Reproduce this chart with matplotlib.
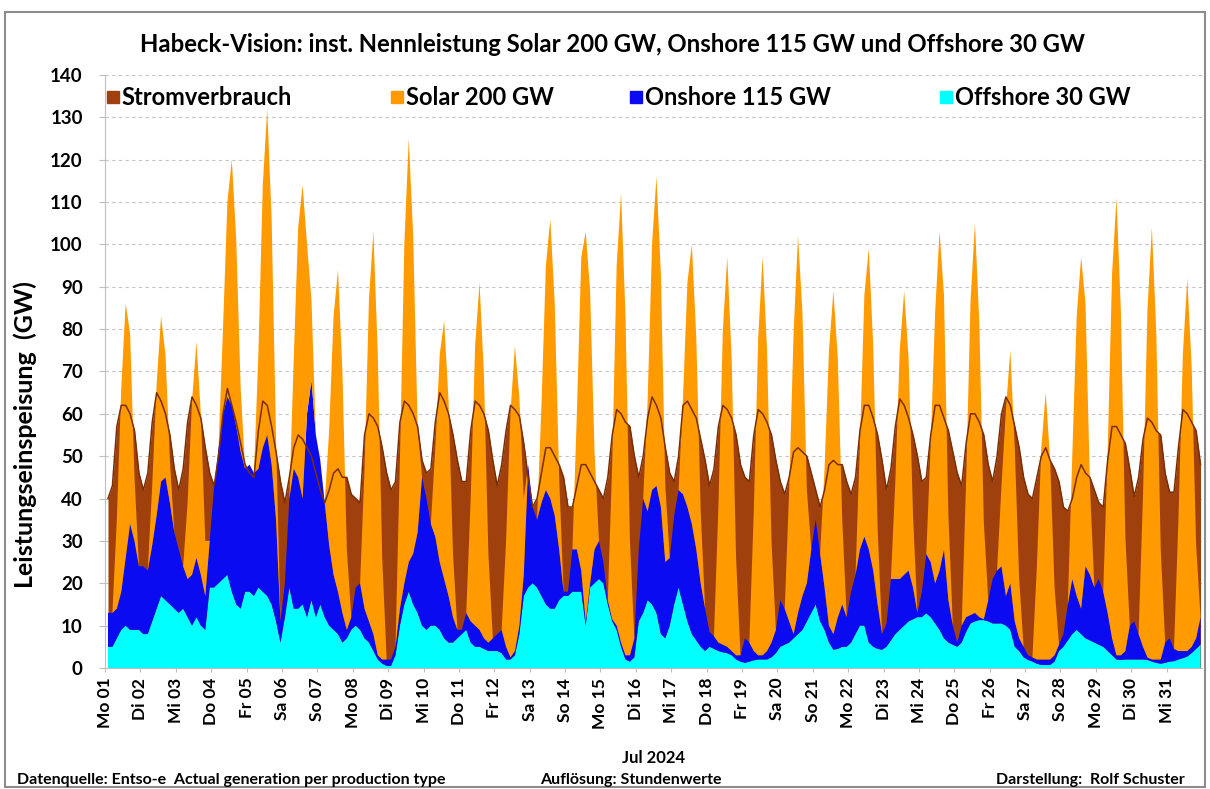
import numpy as np
import matplotlib.pyplot as plt
from matplotlib.patches import Rectangle

plt.rcParams["font.family"] = ["Lato", "DejaVu Sans"]
plt.rcParams["font.weight"] = "bold"

day_labels = ["Mo 01", "Di 02", "Mi 03", "Do 04", "Fr 05", "Sa 06", "So 07",
              "Mo 08", "Di 09", "Mi 10", "Do 11", "Fr 12", "Sa 13", "So 14",
              "Mo 15", "Di 16", "Mi 17", "Do 18", "Fr 19", "Sa 20", "So 21",
              "Mo 22", "Di 23", "Mi 24", "Do 25", "Fr 26", "Sa 27", "So 28",
              "Mo 29", "Di 30", "Mi 31"]

# hour of day of each sample (values every 3 h)
sample_hours = [2, 5, 8, 11, 14, 17, 20, 23]

# GW, one row per day
offshore = [
    [5, 5, 7, 9, 10, 9, 9, 9],
    [8, 8, 11, 14, 17, 16, 15, 14],
    [13, 14, 12, 10, 12, 10, 9, 19],
    [19, 20, 21, 22, 18, 15, 14, 18],
    [18, 17, 19, 18, 17, 15, 11, 6],
    [12, 19, 14, 14, 15, 12, 16, 12],
    [15, 12, 10, 9, 8, 6, 7, 9],
    [10, 9, 7, 6, 4, 2, 1, 0.5],
    [0.5, 3, 10, 15, 18, 15, 13, 10],
    [9, 10, 10, 9, 7, 6, 6, 7],
    [8, 9, 6, 5, 5, 4.5, 4, 4],
    [4, 3.5, 2, 2, 3, 8, 17, 19],
    [20, 19, 17, 15, 14, 14, 16, 17],
    [17, 18, 18, 18, 10, 19, 20, 21],
    [20, 15, 11, 9, 5, 2, 1.5, 2.5],
    [11, 13, 16, 15, 13, 8, 7, 10],
    [15, 19, 15, 11, 8, 6.5, 5, 4],
    [5, 4.5, 4, 3.7, 3.5, 3, 2, 1.5],
    [1.2, 1.5, 1.8, 2, 2, 2, 2.5, 3.5],
    [5, 5.5, 6, 7, 8, 9, 11, 13],
    [15, 11, 9, 6, 4.3, 4.5, 5, 5],
    [6, 8, 10, 10, 6, 5, 4.5, 4.3],
    [5, 6.5, 8, 9, 10, 11, 11.5, 12],
    [12, 12.9, 12, 10.5, 9, 7, 6, 5.5],
    [5, 6, 8.5, 10.5, 11, 11.3, 11.3, 11],
    [10.5, 10.5, 10.5, 10, 9, 5, 4, 2.5],
    [1.9, 1.5, 1, 0.7, 0.7, 0.7, 1.5, 4],
    [5, 6.5, 8, 9, 8, 7, 6.5, 6],
    [5.5, 5, 4, 3, 2, 1.9, 2, 2],
    [2, 2, 2, 1.9, 1.5, 1.2, 1, 1.2],
    [1.5, 1.6, 2, 2.3, 2.7, 3.5, 4.5, 5.5],
]

onshore = [
    [8, 8, 7, 9, 16, 25, 21, 15],
    [16, 15, 18, 22, 27, 29, 24, 18],
    [15, 10, 9, 12, 14, 12, 8, 11],
    [24, 32, 39, 42, 44, 42, 37, 29],
    [30, 29, 28, 34, 38, 33, 24, 5],
    [8, 21, 33, 31, 25, 48, 52, 43],
    [34, 27, 19, 13, 10, 7, 2, 3],
    [9, 11, 7, 5, 4, 1, 1, 1.5],
    [1.5, 2, 4, 5, 7, 12, 19, 35],
    [31, 24, 21, 16, 14, 11, 6, 2],
    [1, 4, 5, 5, 4, 2.5, 2, 3],
    [4, 5.5, 3, 0.5, 1, 2, 5, 29],
    [18, 16, 22, 27, 26, 22, 12, 1],
    [1, 10, 10, 5, 1, 1, 8, 9],
    [5, 1, 0.5, 1, 1, 1, 1.5, 4.5],
    [17, 27, 21, 27, 30, 30, 18, 16],
    [21, 23, 26, 27, 26, 21.5, 15, 10],
    [3.5, 3, 2, 1.8, 1.5, 1, 1, 1.5],
    [5.8, 4.5, 2.2, 1, 1, 2, 3.5, 5.5],
    [11, 8.5, 5, 1, 5, 8, 9, 15],
    [20, 16, 10, 4, 3.7, 7.5, 10, 7],
    [12, 14, 18, 21, 22, 18, 10.5, 3.7],
    [5.5, 14.5, 13, 12, 12, 12, 7.5, 1],
    [6, 14, 13, 9.5, 14, 21, 10, 4.5],
    [1, 4, 3.5, 2, 2, 0.7, 0.2, 5],
    [10.5, 12.5, 13.5, 7, 11, 6, 3, 2.5],
    [1.1, 1, 1, 1.3, 1.3, 1.3, 1.5, 1.5],
    [3, 8.5, 13, 8, 6, 17, 15.5, 13],
    [15.5, 13, 9, 4, 1, 1.1, 2, 8],
    [9, 6, 3, 0.6, 0.5, 0.8, 1, 4.8],
    [5.5, 2.9, 2, 1.7, 1.3, 1.5, 2.5, 6.5],
]

solar = [
    [0, 0, 21, 48, 60, 45, 15, 0],
    [0, 0, 14, 31, 39, 29, 10, 0],
    [0, 0, 18, 41, 51, 38, 13, 0],
    [0, 0, 20, 46, 58, 44, 15, 0],
    [0, 0, 27, 62, 77, 58, 19, 0],
    [0, 0, 26, 59, 74, 40, 19, 0],
    [0, 0, 27, 61, 76, 57, 19, 0],
    [0, 0, 33, 76, 95, 71, 24, 0],
    [0, 0, 35, 80, 100, 75, 25, 0],
    [0, 0, 21, 49, 61, 46, 15, 0],
    [0, 0, 29, 66, 82, 62, 21, 0],
    [0, 0, 25, 58, 72, 54, 18, 0],
    [0, 0, 23, 53, 66, 50, 17, 0],
    [0, 0, 32, 74, 92, 69, 23, 0],
    [0, 0, 37, 85, 106, 80, 27, 0],
    [0, 0, 26, 58, 73, 55, 18, 0],
    [0, 0, 23, 53, 66, 50, 17, 0],
    [0, 0, 32, 74, 92, 69, 23, 0],
    [0, 0, 33, 75, 94, 71, 24, 0],
    [0, 0, 31, 71, 89, 67, 22, 0],
    [0, 0, 28, 65, 81, 61, 20, 0],
    [0, 0, 25, 57, 71, 53, 18, 0],
    [0, 0, 23, 54, 67, 50, 17, 0],
    [0, 0, 28, 64, 80, 60, 20, 0],
    [0, 0, 32, 74, 92, 69, 23, 0],
    [0, 0, 19, 44, 55, 41, 14, 0],
    [0, 0, 22, 50, 63, 47, 16, 0],
    [0, 0, 29, 66, 83, 62, 21, 0],
    [0, 0, 38, 86, 108, 81, 27, 0],
    [0, 0, 36, 82, 102, 77, 26, 0],
    [0, 0, 31, 70, 88, 66, 22, 0],
]

verbrauch = [
    [40, 43, 57, 62, 62, 60, 56, 46],
    [42, 46, 58, 65, 63, 60, 55, 47],
    [42, 47, 58, 64, 62, 59, 52, 46],
    [43, 50, 60, 66, 62, 58, 53, 48],
    [46, 45, 56, 63, 62, 57, 51, 44],
    [39, 45, 52, 55, 54, 52, 50, 46],
    [42, 39, 42, 46, 47, 45, 45, 41],
    [40, 39, 55, 60, 59, 57, 52, 46],
    [42, 44, 58, 63, 62, 60, 57, 49],
    [46, 47, 58, 65, 63, 60, 55, 49],
    [44, 44, 56, 63, 62, 60, 56, 49],
    [43, 48, 56, 62, 61, 59.5, 53, 45],
    [38, 40, 46, 52, 52, 50, 48, 45],
    [38, 38, 43, 48, 48, 46, 44, 42],
    [40, 45, 55, 61, 60, 58, 57, 50],
    [45, 50, 59, 64, 62, 59, 52, 46],
    [44, 50, 62, 63, 61, 59, 54, 49],
    [43, 47, 57, 62, 61, 59, 55, 48],
    [45, 44, 55, 61, 60, 58, 55, 49],
    [44, 41, 45, 51, 52, 51, 50, 46],
    [42, 38, 42, 48, 49, 48, 48, 44],
    [41, 45, 56, 62, 62, 59, 55, 49],
    [42, 47, 57, 63.5, 62, 59, 55, 50],
    [44, 45, 55, 62, 62, 59, 56, 51],
    [46, 43, 53, 60, 60, 58, 55, 48],
    [44, 50, 60, 64, 62, 57, 52, 45],
    [41, 40, 45, 50, 52, 49, 47, 44],
    [38, 37, 40, 45, 48, 46, 45, 42],
    [39, 38, 49, 57, 57, 55, 53, 47],
    [40.5, 45, 54, 59, 58, 56, 55, 46],
    [41.5, 41.5, 52, 61, 60, 58, 56, 48],
]

c_brown = "#A0410D"
c_line = "#7A2E05"
c_orange = "#FF9A00"
c_blue = "#0B0BF2"
c_cyan = "#00FFFF"

hours = (np.arange(len(day_labels))[:, None] * 24 + np.array(sample_hours)).ravel()
off = np.array(offshore, dtype=float).ravel()
on = np.array(onshore, dtype=float).ravel()
sol = np.array(solar, dtype=float).ravel()
last = np.array(verbrauch, dtype=float).ravel()

fig = plt.figure(figsize=(12.1, 7.89), dpi=100)
ax = fig.add_axes([0.0868, 0.1534, 0.9066, 0.7516])

ax.fill_between(hours, 0, last, color=c_brown, lw=0)
ax.stackplot(hours, off, on, sol, colors=[c_cyan, c_blue, c_orange], lw=0)
ax.plot(hours, last, color=c_line, lw=1.1)

ax.set_xlim(0, 24 * len(day_labels))
ax.set_ylim(0, 140)
ax.set_yticks(range(0, 141, 10))
ax.set_xticks(np.arange(len(day_labels)) * 24)
ax.set_xticklabels(day_labels, rotation=90, fontsize=12.5, fontweight="bold")
ax.tick_params(axis="y", labelsize=13.5, length=4, color="#bfbfbf", pad=12)
ax.tick_params(axis="x", length=3, color="#bfbfbf", pad=4)
for lab in ax.get_yticklabels():
    lab.set_fontweight("bold")

ax.set_axisbelow(True)
ax.grid(axis="y", color="#c4c4c4", ls=(0, (3, 3)), lw=0.8)
for s in ["top", "right"]:
    ax.spines[s].set_visible(False)
for s in ["left", "bottom"]:
    ax.spines[s].set_color("#bfbfbf")

ax.set_ylabel("Leistungseinspeisung  (GW)", fontsize=18, fontweight="bold")
ax.yaxis.set_label_coords(-0.062, 0.393)

# legend row inside the plot
leg = [("Stromverbrauch", c_brown, 0.0073),
       ("Solar 200 GW", c_orange, 0.266),
       ("Onshore 115 GW", c_blue, 0.484),
       ("Offshore 30 GW", c_cyan, 0.767)]
for name, col, xpos in leg:
    ax.plot([xpos], [0.963], marker="s", ms=9, color=col, transform=ax.transAxes,
            clip_on=False)
    ax.text(xpos + 0.008, 0.962, name, transform=ax.transAxes, fontsize=17,
            fontweight="bold", va="center", ha="left")

fig.text(0.506, 0.943,
         "Habeck-Vision: inst. Nennleistung Solar 200 GW, Onshore 115 GW und Offshore 30 GW",
         ha="center", va="center", fontsize=17.2, fontweight="bold")
fig.text(0.54, 0.039, "Jul 2024", ha="center", va="center", fontsize=12, fontweight="bold")
fig.text(0.014, 0.011, "Datenquelle: Entso-e  Actual generation per production type",
         ha="left", va="center", fontsize=11.5, fontweight="bold")
fig.text(0.446, 0.011, "Auflösung: Stundenwerte", ha="left", va="center",
         fontsize=11.5, fontweight="bold")
fig.text(0.979, 0.011, "Darstellung:  Rolf Schuster", ha="right", va="center",
         fontsize=11.5, fontweight="bold")

fig.patches.append(Rectangle((0.004, 0.002), 0.992, 0.983, transform=fig.transFigure,
                             fill=False, ec="#8c8c8c", lw=1.5))

fig.savefig("out.png", dpi=100)
